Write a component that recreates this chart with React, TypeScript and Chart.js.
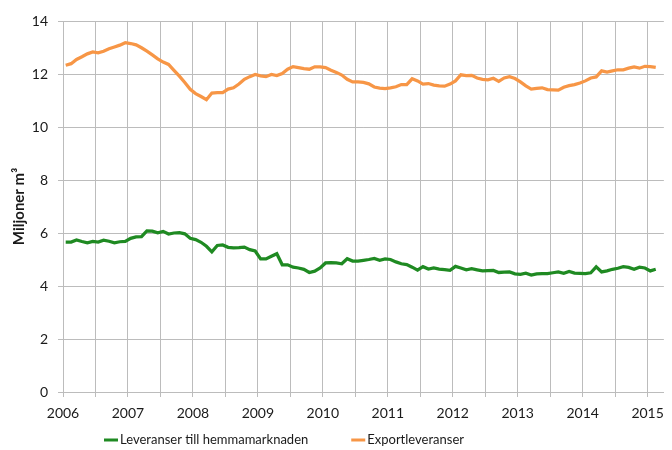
import React, { useEffect, useRef } from "react";
import { Chart, registerables } from "chart.js";

Chart.register(...registerables);

// Monthly deliveries, million m³, Jan 2006 – Feb 2015
const START_YEAR = 2006;
const SERIES_LABELS = ["Leveranser till hemmamarknaden", "Exportleveranser"];
const SERIES_COLORS = ["#1f8a22", "#f79646"];

const homeMarket = [
  5.66, 5.66, 5.74, 5.68, 5.63, 5.68, 5.66, 5.73, 5.69, 5.63, 5.67, 5.68,
  5.80, 5.85, 5.86, 6.08, 6.07, 6.01, 6.06, 5.96, 6.00, 6.01, 5.97, 5.80,
  5.75, 5.65, 5.50, 5.29, 5.53, 5.55, 5.46, 5.44, 5.45, 5.47, 5.37, 5.32,
  5.02, 5.02, 5.12, 5.22, 4.80, 4.80, 4.71, 4.68, 4.63, 4.51, 4.56, 4.68,
  4.87, 4.88, 4.87, 4.84, 5.03, 4.94, 4.94, 4.97, 5.00, 5.04, 4.97, 5.02,
  5.00, 4.91, 4.84, 4.81, 4.71, 4.60, 4.73, 4.64, 4.68, 4.64, 4.62, 4.59,
  4.74, 4.68, 4.61, 4.65, 4.61, 4.57, 4.58, 4.59, 4.51, 4.52, 4.53, 4.46,
  4.44, 4.48, 4.41, 4.46, 4.47, 4.47, 4.50, 4.53, 4.48, 4.55, 4.49, 4.48,
  4.47, 4.50, 4.72, 4.53, 4.57, 4.63, 4.67, 4.73, 4.70, 4.63, 4.71, 4.68,
  4.57, 4.63,
];

const exportDeliveries = [
  12.33, 12.39, 12.55, 12.65, 12.76, 12.83, 12.80, 12.86, 12.95, 13.02, 13.09, 13.18,
  13.15, 13.10, 12.99, 12.86, 12.72, 12.57, 12.45, 12.36, 12.14, 11.92, 11.68, 11.42,
  11.26, 11.15, 11.03, 11.28, 11.30, 11.30, 11.43, 11.48, 11.62, 11.80, 11.90, 11.98,
  11.93, 11.90, 11.98, 11.94, 12.02, 12.18, 12.28, 12.24, 12.20, 12.18, 12.27, 12.27,
  12.24, 12.14, 12.06, 11.96, 11.80, 11.70, 11.70, 11.68, 11.63, 11.51, 11.47, 11.45,
  11.48, 11.52, 11.60, 11.60, 11.82, 11.74, 11.62, 11.64, 11.58, 11.55, 11.54, 11.62,
  11.74, 11.97, 11.94, 11.95, 11.85, 11.80, 11.78, 11.84, 11.72, 11.85, 11.90, 11.83,
  11.70, 11.55, 11.43, 11.46, 11.48, 11.41, 11.40, 11.39, 11.50, 11.56, 11.60, 11.66,
  11.74, 11.85, 11.89, 12.12, 12.07, 12.12, 12.16, 12.16, 12.22, 12.27, 12.22, 12.29,
  12.28, 12.25,
];

const Y_MIN = 0;
const Y_MAX = 14;
const Y_STEP = 2;
const X_MIN = 2006;
const X_MAX = 2015.25;
const X_STEP = 0.5;
const Y_TITLE = "Miljoner m³";

const FONT = "Lato, 'Open Sans', 'DejaVu Sans', sans-serif";
const TEXT_COLOR = "#1a1a1a";
const GRID_COLOR = "#bcbcbc";

const toPoints = (vals: number[]) =>
  vals.map((v, i) => ({ x: START_YEAR + (i + 0.5) / 12, y: v }));

const customLegend = {
  id: "customLegend",
  afterDraw(chart: any) {
    const ctx = chart.ctx;
    const startX = 104;
    const y = 440;
    const gap = 43;
    const seg = 14;
    ctx.save();
    ctx.font = `13px ${FONT}`;
    ctx.textBaseline = "middle";
    ctx.textAlign = "left";
    let x = startX;
    chart.data.datasets.forEach((ds: any) => {
      ctx.strokeStyle = ds.borderColor;
      ctx.lineWidth = 3;
      ctx.beginPath();
      ctx.moveTo(x, y);
      ctx.lineTo(x + seg, y);
      ctx.stroke();
      ctx.fillStyle = TEXT_COLOR;
      ctx.fillText(ds.label, x + seg + 2, y);
      x += seg + 2 + ctx.measureText(ds.label).width + gap;
    });
    ctx.restore();
  },
};

export default function App() {
  const ref = useRef<HTMLCanvasElement>(null);
  useEffect(() => {
    if (!ref.current) return;
    const chart = new Chart(ref.current, {
      type: "line",
      data: {
        datasets: [
          {
            label: SERIES_LABELS[0],
            data: toPoints(homeMarket),
            borderColor: SERIES_COLORS[0],
            backgroundColor: SERIES_COLORS[0],
            borderWidth: 3.25,
            pointRadius: 0,
            tension: 0,
          },
          {
            label: SERIES_LABELS[1],
            data: toPoints(exportDeliveries),
            borderColor: SERIES_COLORS[1],
            backgroundColor: SERIES_COLORS[1],
            borderWidth: 3.25,
            pointRadius: 0,
            tension: 0,
          },
        ],
      },
      options: {
        responsive: false,
        animation: false,
        layout: { padding: { left: 0, right: 5, top: 21, bottom: 28 } },
        plugins: {
          legend: { display: false },
          tooltip: { enabled: false },
        },
        scales: {
          x: {
            type: "linear",
            min: X_MIN,
            max: X_MAX,
            afterBuildTicks: (scale: any) => {
              const ticks = [];
              const n = Math.floor((X_MAX - X_MIN) / X_STEP + 1e-9);
              for (let k = 0; k <= n; k++) ticks.push({ value: X_MIN + k * X_STEP });
              scale.ticks = ticks;
            },
            afterFit: (scale: any) => {
              scale.height = 30;
            },
            ticks: {
              stepSize: X_STEP,
              autoSkip: false,
              maxRotation: 0,
              padding: 8,
              color: TEXT_COLOR,
              font: { family: FONT, size: 14 },
              callback: (v: any) => (Number.isInteger(v) ? String(v) : ""),
            },
            grid: { color: GRID_COLOR, lineWidth: 1, tickLength: 5 },
            border: { color: GRID_COLOR },
          },
          y: {
            min: Y_MIN,
            max: Y_MAX,
            afterFit: (scale: any) => {
              scale.width = 63;
            },
            ticks: {
              stepSize: Y_STEP,
              padding: 10,
              color: TEXT_COLOR,
              font: { family: FONT, size: 14 },
            },
            grid: { color: GRID_COLOR, lineWidth: 1, tickLength: 5 },
            border: { color: GRID_COLOR },
            title: {
              display: true,
              text: Y_TITLE,
              color: TEXT_COLOR,
              font: { family: FONT, size: 15, weight: "bold" },
              padding: { top: 10, bottom: 0 },
            },
          },
        },
      },
      plugins: [customLegend],
    });
    return () => chart.destroy();
  }, []);
  return (
    <div style={{ position: "absolute", left: 0, top: 0, width: 672, height: 450, background: "#fff" }}>
      <canvas ref={ref} width={672} height={450} />
    </div>
  );
}
